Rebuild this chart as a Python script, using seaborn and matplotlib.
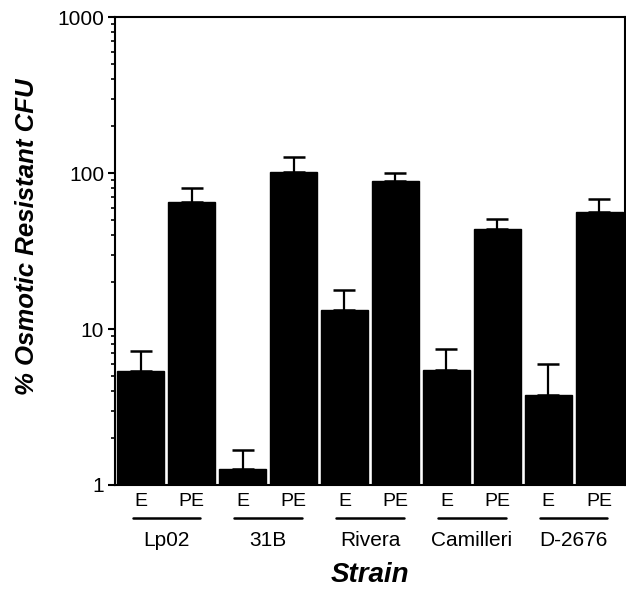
import numpy as np
import pandas as pd
import seaborn as sns
import matplotlib.pyplot as plt

strains = ['Lp02', '31B', 'Rivera', 'Camilleri', 'D-2676']
phases = ['E', 'PE']
e_vals = [5.4, 1.27, 13.2, 5.5, 3.8]
pe_vals = [65, 101, 89, 44, 56]
e_err = [1.8, 0.41, 4.6, 1.9, 2.2]
pe_err = [15, 25, 11, 7, 12]

rows = []
for s, ev, pv, ee, pe in zip(strains, e_vals, pe_vals, e_err, pe_err):
    rows.append({'bar': s + ' E', 'strain': s, 'phase': 'E', 'value': ev, 'err': ee})
    rows.append({'bar': s + ' PE', 'strain': s, 'phase': 'PE', 'value': pv, 'err': pe})
df = pd.DataFrame(rows)

sns.set_style('ticks')
plt.rcParams['font.family'] = ['Liberation Sans', 'DejaVu Sans']
plt.rcParams['text.color'] = 'black'
plt.rcParams['axes.labelcolor'] = 'black'
plt.rcParams['xtick.color'] = 'black'
plt.rcParams['ytick.color'] = 'black'

fig = plt.figure(figsize=(6.26, 5.9), dpi=100)
ax = fig.add_axes([0.184, 0.178, 0.814, 0.793])

sns.barplot(data=df, x='bar', y='value', color='black', width=0.92,
            edgecolor='black', errorbar=None, ax=ax)
ax.errorbar(np.arange(len(df)), df['value'], yerr=[np.zeros(len(df)), df['err']],
            fmt='none', ecolor='black', elinewidth=1.6, capsize=8, capthick=1.8)

ax.set_yscale('log')
ax.set_ylim(1, 1000)
ax.set_xlim(-0.5, len(df) - 0.5)
ax.set_yticks([1, 10, 100, 1000])
ax.set_yticklabels(['1', '10', '100', '1000'], fontsize=15)
ax.tick_params(axis='y', which='major', length=5, width=1.5, direction='out', pad=3)
ax.tick_params(axis='y', which='minor', length=3, width=1.2, direction='out')
ax.set_xticks(np.arange(len(df)))
ax.set_xticklabels(df['phase'], fontsize=14)
ax.tick_params(axis='x', length=0, pad=6)
for sp in ax.spines.values():
    sp.set_visible(True)
    sp.set_linewidth(1.5)
    sp.set_color('black')

trans = ax.get_xaxis_transform()
for i, s in enumerate(strains):
    x0, x1 = 2 * i - 0.16, 2 * i + 1.16
    ax.plot([x0, x1], [-0.07, -0.07], color='black', lw=1.8,
            transform=trans, clip_on=False)
    ax.text(2 * i + 0.5, -0.118, s, transform=trans, ha='center', va='center',
            fontsize=15)

ax.set_xlabel('Strain', fontsize=20, fontweight='bold', fontstyle='italic', labelpad=37)
ax.set_ylabel('% Osmotic Resistant CFU', fontsize=18.5, fontweight='bold',
              fontstyle='italic')
ax.yaxis.set_label_coords(-0.15, 0.53)

fig.savefig('out.png', dpi=100)
